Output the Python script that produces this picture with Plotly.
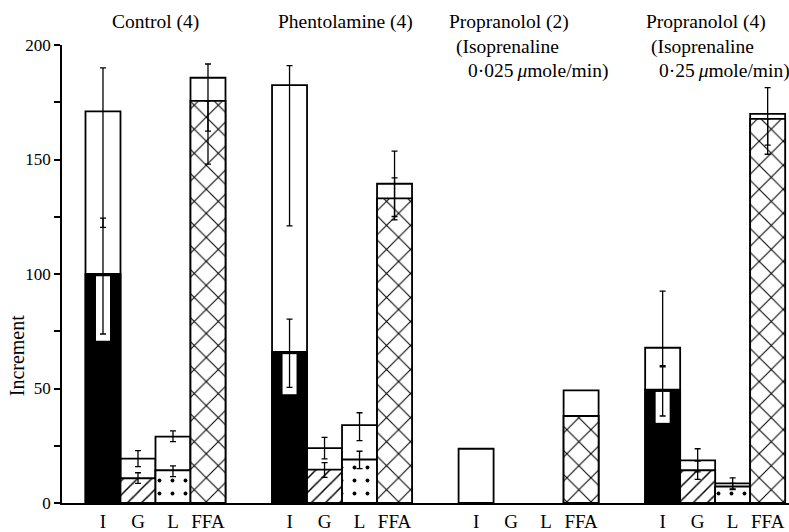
import plotly.graph_objects as go

# Experimental groups and the four measured increments within each group
groups = ["Control (4)", "Phentolamine (4)", "Propranolol (2)", "Propranolol (4)"]
categories = ["I", "G", "L", "FFA"]

# Full bar heights (open part on top of the patterned part)
total_I = [171.0, 182.5, 23.7, 67.8]
total_G = [19.4, 24.0, None, 18.6]
total_L = [29.0, 34.0, None, 8.6]
total_FFA = [185.7, 139.4, 49.2, 169.9]

# Patterned (lower) part of each bar
part_I = [100.0, 66.0, None, 49.5]
part_G = [10.8, 14.6, None, 14.3]
part_L = [14.3, 19.0, None, 7.2]
part_FFA = [175.6, 133.0, 38.0, 167.7]

# Error-bar end points for the full bars
total_hi_I = [190.0, 191.0, None, 92.5]
total_lo_I = [120.4, 121.0, None, 60.0]
total_hi_G = [22.9, 28.7, None, 23.7]
total_lo_G = [15.9, 19.3, None, 13.6]
total_hi_L = [31.5, 39.4, None, 11.0]
total_lo_L = [26.8, 27.2, None, 6.2]
total_hi_FFA = [191.7, 153.7, None, 181.4]
total_lo_FFA = [162.4, 125.1, None, 156.3]

# Error-bar end points for the patterned parts
part_hi_I = [124.4, 80.3, None, 59.5]
part_lo_I = [73.8, 50.5, None, 38.0]
part_hi_G = [13.2, 17.6, None, 18.3]
part_lo_G = [8.6, 11.2, None, 10.3]
part_hi_L = [16.2, 22.6, None, 8.6]
part_lo_L = [11.5, 15.0, None, 5.9]
part_hi_FFA = [175.6, 142.0, None, 167.7]
part_lo_FFA = [148.0, 123.6, None, 152.3]

y_tick_values = [0, 25, 50, 75, 100, 125, 150, 175, 200]
y_tick_labels = ["0", "", "50", "", "100", "", "150", "", "200"]

totals = [total_I, total_G, total_L, total_FFA]
parts = [part_I, part_G, part_L, part_FFA]
totals_hi = [total_hi_I, total_hi_G, total_hi_L, total_hi_FFA]
totals_lo = [total_lo_I, total_lo_G, total_lo_L, total_lo_FFA]
parts_hi = [part_hi_I, part_hi_G, part_hi_L, part_hi_FFA]
parts_lo = [part_lo_I, part_lo_G, part_lo_L, part_lo_FFA]

GROUP_STEP = 5.33
FONT = "Liberation Serif"
LINE_W = 1.8


def positions(k):
    return [g * GROUP_STEP + k for g in range(len(groups))]


def keep(xs, ys):
    pairs = [(x, y) for x, y in zip(xs, ys) if y is not None]
    return [p[0] for p in pairs], [p[1] for p in pairs]


patterns = [
    dict(color="black", pattern=dict(shape="")),
    dict(color="white", pattern=dict(shape="/", fgcolor="black", bgcolor="white",
                                     size=10, solidity=0.15, fillmode="replace")),
    dict(color="white", pattern=dict(shape=".", fgcolor="black", bgcolor="white",
                                     size=13, solidity=0.07, fillmode="replace")),
    dict(color="white", pattern=dict(shape="x", fgcolor="black", bgcolor="white",
                                     size=17, solidity=0.12, fillmode="replace")),
]

fig = go.Figure()

# open (full-height) bars
for k, cat in enumerate(categories):
    xs, ys = keep(positions(k), totals[k])
    fig.add_trace(go.Bar(x=xs, y=ys, width=1.0,
                         marker=dict(color="white", line=dict(color="black", width=LINE_W)),
                         showlegend=False, hoverinfo="skip"))

# patterned lower parts
for k, cat in enumerate(categories):
    xs, ys = keep(positions(k), parts[k])
    m = dict(patterns[k])
    m["line"] = dict(color="black", width=LINE_W)
    fig.add_trace(go.Bar(x=xs, y=ys, width=1.0, marker=m,
                         showlegend=False, hoverinfo="skip"))

# white slot cut into the solid bars so their error bars stay visible
slot_x, slot_base, slot_len = [], [], []
for x, top, lo in zip(positions(0), part_I, part_lo_I):
    if top is None:
        continue
    base = lo - 3.0
    slot_x.append(x)
    slot_base.append(base)
    slot_len.append((top - 1.0) - base)
fig.add_trace(go.Bar(x=slot_x, y=slot_len, base=slot_base, width=0.4,
                     marker=dict(color="white", line=dict(width=0)),
                     showlegend=False, hoverinfo="skip"))


# error bars
def add_errors(xs, vals, his, los):
    ex, ey, ep, em = [], [], [], []
    for x, v, h, l in zip(xs, vals, his, los):
        if v is None or h is None:
            continue
        ex.append(x)
        ey.append(v)
        ep.append(h - v)
        em.append(v - l)
    fig.add_trace(go.Scatter(
        x=ex, y=ey, mode="markers",
        marker=dict(size=1, color="rgba(0,0,0,0)"),
        error_y=dict(type="data", symmetric=False, array=ep, arrayminus=em,
                     color="black", thickness=1.3, width=3),
        showlegend=False, hoverinfo="skip"))


for k in range(len(categories)):
    add_errors(positions(k), totals[k], totals_hi[k], totals_lo[k])
    add_errors(positions(k), parts[k], parts_hi[k], parts_lo[k])

tick_x = [g * GROUP_STEP + k for g in range(len(groups)) for k in range(len(categories))]
tick_t = [c for g in range(len(groups)) for c in categories]

fig.update_layout(
    width=789, height=532,
    margin=dict(l=62, r=0, t=45, b=22),
    barmode="overlay",
    paper_bgcolor="white", plot_bgcolor="white",
    font=dict(family=FONT, color="black", size=17),
    xaxis=dict(range=[-1.171, 19.6], tickvals=tick_x, ticktext=tick_t,
               ticks="", showgrid=False, zeroline=False,
               showline=True, linecolor="black", linewidth=1.5,
               tickfont=dict(size=19, family=FONT, color="black")),
    yaxis=dict(range=[0, 200], tickvals=y_tick_values, ticktext=y_tick_labels,
               ticks="outside", ticklen=6, tickwidth=1.5, tickcolor="black",
               showgrid=False, zeroline=False,
               showline=True, linecolor="black", linewidth=1.5,
               tickfont=dict(size=17, family=FONT, color="black")),
)


def px_x(p):
    return (p - 62) / 727.0


def px_y(p):
    return (510 - p) / 465.0


title_font = dict(family=FONT, size=19.5, color="black")
notes = [
    (groups[0], 155, 22, "center"),
    (groups[1], 345, 22, "center"),
    (groups[2], 447, 22, "left"),
    ("(Isoprenaline", 454, 47, "left"),
    ("0·025\u2009<i>μ</i>mole/min)", 466, 71, "left"),
    (groups[3], 644, 22, "left"),
    ("(Isoprenaline", 649, 47, "left"),
    ("0·25\u2009<i>μ</i>mole/min)", 657, 71, "left"),
]
for text, x, y, anchor in notes:
    fig.add_annotation(text=text, xref="paper", yref="paper",
                       x=px_x(x), y=px_y(y), xanchor=anchor, yanchor="middle",
                       showarrow=False, font=title_font)

fig.add_annotation(text="Increment", xref="paper", yref="paper",
                   x=px_x(17), y=px_y(360), textangle=-90,
                   xanchor="center", yanchor="middle", showarrow=False,
                   font=dict(family=FONT, size=20, color="black"))

fig.write_html("out.html")
